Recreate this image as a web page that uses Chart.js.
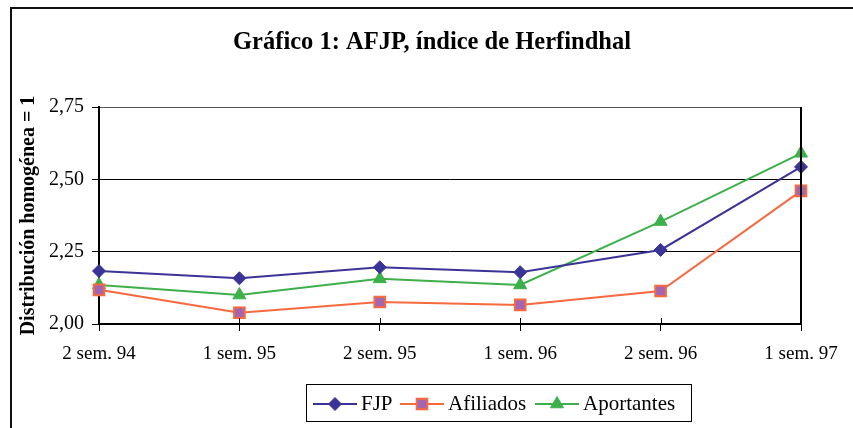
<!DOCTYPE html>
<html>
<head>
<meta charset="utf-8">
<script src="https://cdn.jsdelivr.net/npm/chart.js@4.4.1/dist/chart.umd.min.js"></script>
<style>
  html, body { margin: 0; padding: 0; background: #fff; }
  #wrap { width: 853px; height: 428px; }
</style>
</head>
<body>
<div id="wrap"><canvas id="c" width="853" height="428"></canvas></div>
<script>
const categories = ['2 sem. 94', '1 sem. 95', '2 sem. 95', '1 sem. 96', '2 sem. 96', '1 sem. 97'];
const fjp        = [2.183, 2.158, 2.196, 2.179, 2.256, 2.543];
const afiliados  = [2.118, 2.039, 2.076, 2.066, 2.114, 2.460];
const aportantes = [2.135, 2.100, 2.156, 2.135, 2.354, 2.590];
const yTicks = [2.00, 2.25, 2.50, 2.75];
const titleText = 'Gráfico 1: AFJP, índice de Herfindhal';
const yTitleText = 'Distribución homogénea = 1';

const FONT = '"Liberation Serif", "Times New Roman", serif';
const C_FJP = '#3B3497';
const C_AFI_LINE = '#F7693E';
const C_AFI_FILL = '#A066B4';
const C_APO = '#3DB04B';

const frameAndExtras = {
  id: 'frameAndExtras',
  beforeDraw(chart) {
    const ctx = chart.ctx;
    ctx.save();
    ctx.fillStyle = '#fff';
    ctx.fillRect(0, 0, chart.width, chart.height);
    ctx.restore();
  },
  afterDraw(chart) {
    const ctx = chart.ctx;
    const a = chart.chartArea;
    const xs = chart.scales.x;
    ctx.save();
    // outer frame
    ctx.strokeStyle = '#111';
    ctx.lineWidth = 2;
    ctx.strokeRect(11, 8, 900, 500);
    // right border of plot
    ctx.strokeStyle = '#000';
    ctx.lineWidth = 2;
    ctx.beginPath();
    ctx.moveTo(a.right, a.top);
    ctx.lineTo(a.right, a.bottom);
    ctx.stroke();
    // inner part of x ticks (crossing the axis)
    ctx.lineWidth = 1;
    ctx.strokeStyle = '#000';
    categories.forEach((c, i) => {
      const x = Math.round(xs.getPixelForValue(i)) + 0.5;
      ctx.beginPath();
      ctx.moveTo(x, a.bottom - 6);
      ctx.lineTo(x, a.bottom);
      ctx.stroke();
    });
    ctx.restore();
  }
};

const customLegend = {
  id: 'customLegend',
  afterDraw(chart) {
    const ctx = chart.ctx;
    const ds = chart.data.datasets;
    const box = { x: 306, y: 384, w: 385, h: 37 };
    const lineStarts = [313, 400, 535];
    const lineLen = 44;
    const ly = 404;
    ctx.save();
    ctx.strokeStyle = '#000';
    ctx.lineWidth = 1;
    ctx.strokeRect(box.x + 0.5, box.y + 0.5, box.w, box.h);
    ds.forEach((d, i) => {
      const x0 = lineStarts[i];
      ctx.strokeStyle = d.borderColor;
      ctx.lineWidth = 2;
      ctx.beginPath();
      ctx.moveTo(x0, ly);
      ctx.lineTo(x0 + lineLen, ly);
      ctx.stroke();
      ctx.fillStyle = d.pointBackgroundColor;
      ctx.strokeStyle = d.pointBorderColor;
      ctx.lineWidth = d.pointBorderWidth;
      Chart.helpers.drawPoint(ctx, {
        pointStyle: d.pointStyle,
        radius: d.pointRadius,
        borderWidth: d.pointBorderWidth,
        rotation: 0
      }, x0 + lineLen / 2, ly);
      ctx.fillStyle = '#000';
      ctx.font = '21px ' + FONT;
      ctx.textBaseline = 'alphabetic';
      ctx.textAlign = 'left';
      ctx.fillText(d.label, x0 + lineLen + 4, 410);
    });
    ctx.restore();
  }
};

const ds = (label, data, line, fill, border, style, r, bw) => ({
  label, data,
  yAxisID: 'y',
  borderColor: line,
  backgroundColor: fill,
  borderWidth: 2,
  pointStyle: style,
  pointRadius: r,
  pointHoverRadius: r,
  pointBackgroundColor: fill,
  pointBorderColor: border,
  pointBorderWidth: bw,
  tension: 0,
  fill: false
});

new Chart(document.getElementById('c'), {
  type: 'line',
  data: {
    labels: categories,
    datasets: [
      ds('FJP', fjp, C_FJP, C_FJP, C_FJP, 'rectRot', 6.5, 1),
      ds('Afiliados', afiliados, C_AFI_LINE, C_AFI_FILL, C_AFI_LINE, 'rect', 7.5, 2),
      ds('Aportantes', aportantes, C_APO, C_APO, C_APO, 'triangle', 7.5, 1)
    ]
  },
  options: {
    responsive: false,
    animation: false,
    devicePixelRatio: 1,
    layout: { padding: { left: 11, right: 0, top: 0, bottom: 0 } },
    plugins: {
      legend: { display: false },
      tooltip: { enabled: false },
      title: {
        display: true,
        text: titleText,
        color: '#000',
        font: { family: FONT, size: 24.5, weight: 'bold' },
        padding: { top: 28, bottom: 107 - 28 - 29.4 }
      }
    },
    scales: {
      x: {
        type: 'category',
        offset: false,
        grid: { display: true, drawOnChartArea: false, drawTicks: true, tickLength: 7, color: '#000', lineWidth: 1 },
        border: { display: true, color: '#000', width: 2 },
        ticks: { color: '#000', font: { family: FONT, size: 19 }, padding: 12, maxRotation: 0, autoSkip: false },
        afterFit(s) { s.height = 104; }
      },
      y: {
        position: 'left',
        min: 2.0,
        max: 2.75,
        afterBuildTicks(s) { s.ticks = yTicks.map(v => ({ value: v })); },
        grid: {
          drawOnChartArea: true,
          drawTicks: true,
          tickLength: 7,
          tickColor: '#000',
          lineWidth: 1,
          color: (ctx) => {
            const v = ctx.tick && ctx.tick.value;
            if (v === 2.75) return '#555';
            if (v === 2.0) return 'rgba(0,0,0,0)';
            return '#000';
          }
        },
        border: { display: true, color: '#000', width: 2 },
        ticks: {
          color: '#000',
          font: { family: FONT, size: 20 },
          padding: 8,
          callback: (v) => Number(v).toFixed(2).replace('.', ',')
        },
        title: {
          display: true,
          text: yTitleText,
          color: '#000',
          font: { family: FONT, size: 20, weight: 'bold' },
          padding: { top: 6, bottom: 0 }
        },
        afterFit(s) { s.width = 99 - 11; }
      },
      yPad: {
        position: 'right',
        display: true,
        min: 2.0,
        max: 2.75,
        grid: { display: false, drawOnChartArea: false, drawTicks: false },
        border: { display: false },
        ticks: { display: false },
        afterFit(s) { s.width = 853 - 801; }
      }
    }
  },
  plugins: [frameAndExtras, customLegend]
});
</script>
</body>
</html>
